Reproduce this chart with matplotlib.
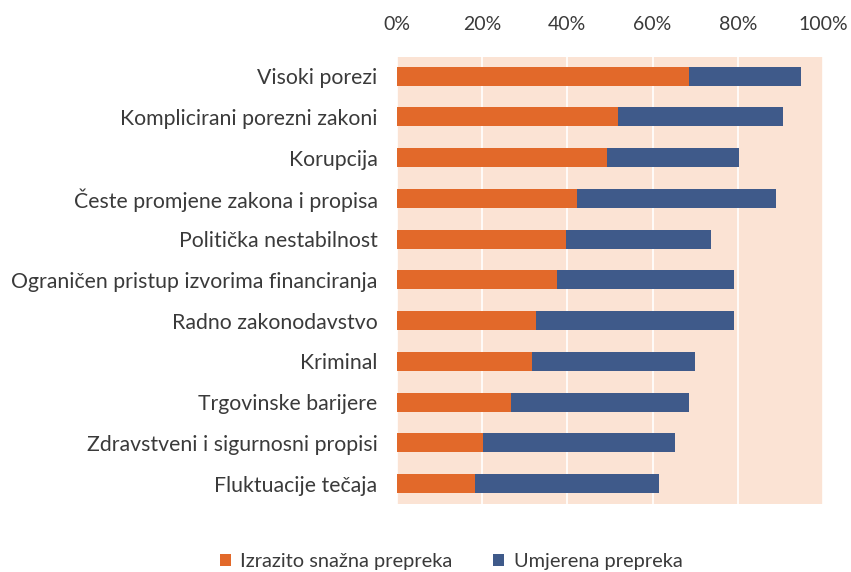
import matplotlib.pyplot as plt

plt.rcParams['font.family'] = ['Lato', 'DejaVu Sans']

# data (percent of respondents)
categories = ['Visoki porezi', 'Komplicirani porezni zakoni', 'Korupcija',
              'Česte promjene zakona i propisa', 'Politička nestabilnost',
              'Ograničen pristup izvorima financiranja', 'Radno zakonodavstvo',
              'Kriminal', 'Trgovinske barijere', 'Zdravstveni i sigurnosni propisi',
              'Fluktuacije tečaja']
strong = [68.5, 51.9, 49.3, 42.3, 39.6, 37.5, 32.6, 31.6, 26.8, 20.3, 18.2]
moderate = [26.3, 38.6, 31.0, 46.6, 34.2, 41.7, 46.6, 38.4, 41.7, 45.0, 43.2]
ticks = [0, 20, 40, 60, 80, 100]
tick_labels = ['0%', '20%', '40%', '60%', '80%', '100%']

orange = '#E2692A'
blue = '#3F5A8A'
peach = '#FBE3D4'
text_col = '#3A3A3A'

fig = plt.figure(figsize=(8.51, 5.72), dpi=100)
ax = fig.add_axes([397 / 851, 1 - 504 / 572, 426 / 851, (504 - 57) / 572])
ax.set_facecolor(peach)

y = list(range(len(categories)))
ax.barh(y, strong, height=0.465, color=orange, label='Izrazito snažna prepreka', zorder=3)
ax.barh(y, moderate, left=strong, height=0.465, color=blue, label='Umjerena prepreka', zorder=3)

ax.set_xlim(0, 100)
ax.set_ylim(len(categories) - 0.5, -0.47)
ax.set_xticks(ticks)
ax.set_xticklabels(tick_labels)
ax.xaxis.tick_top()
ax.set_yticks(y)
ax.set_yticklabels(categories)
ax.tick_params(axis='both', length=0, colors=text_col)
ax.tick_params(axis='x', pad=17, labelsize=14)
ax.tick_params(axis='y', pad=14, labelsize=15.3)
ax.grid(axis='x', color='white', linewidth=1.2, zorder=1)
for s in ax.spines.values():
    s.set_visible(False)

fig.legend(loc='center', bbox_to_anchor=(451 / 851, 1 - 562 / 572), ncol=2,
           frameon=False, fontsize=14.4, handlelength=0.55, handleheight=0.55,
           columnspacing=2.0, handletextpad=0.5, labelcolor=text_col)

plt.savefig('out.png', dpi=100)
